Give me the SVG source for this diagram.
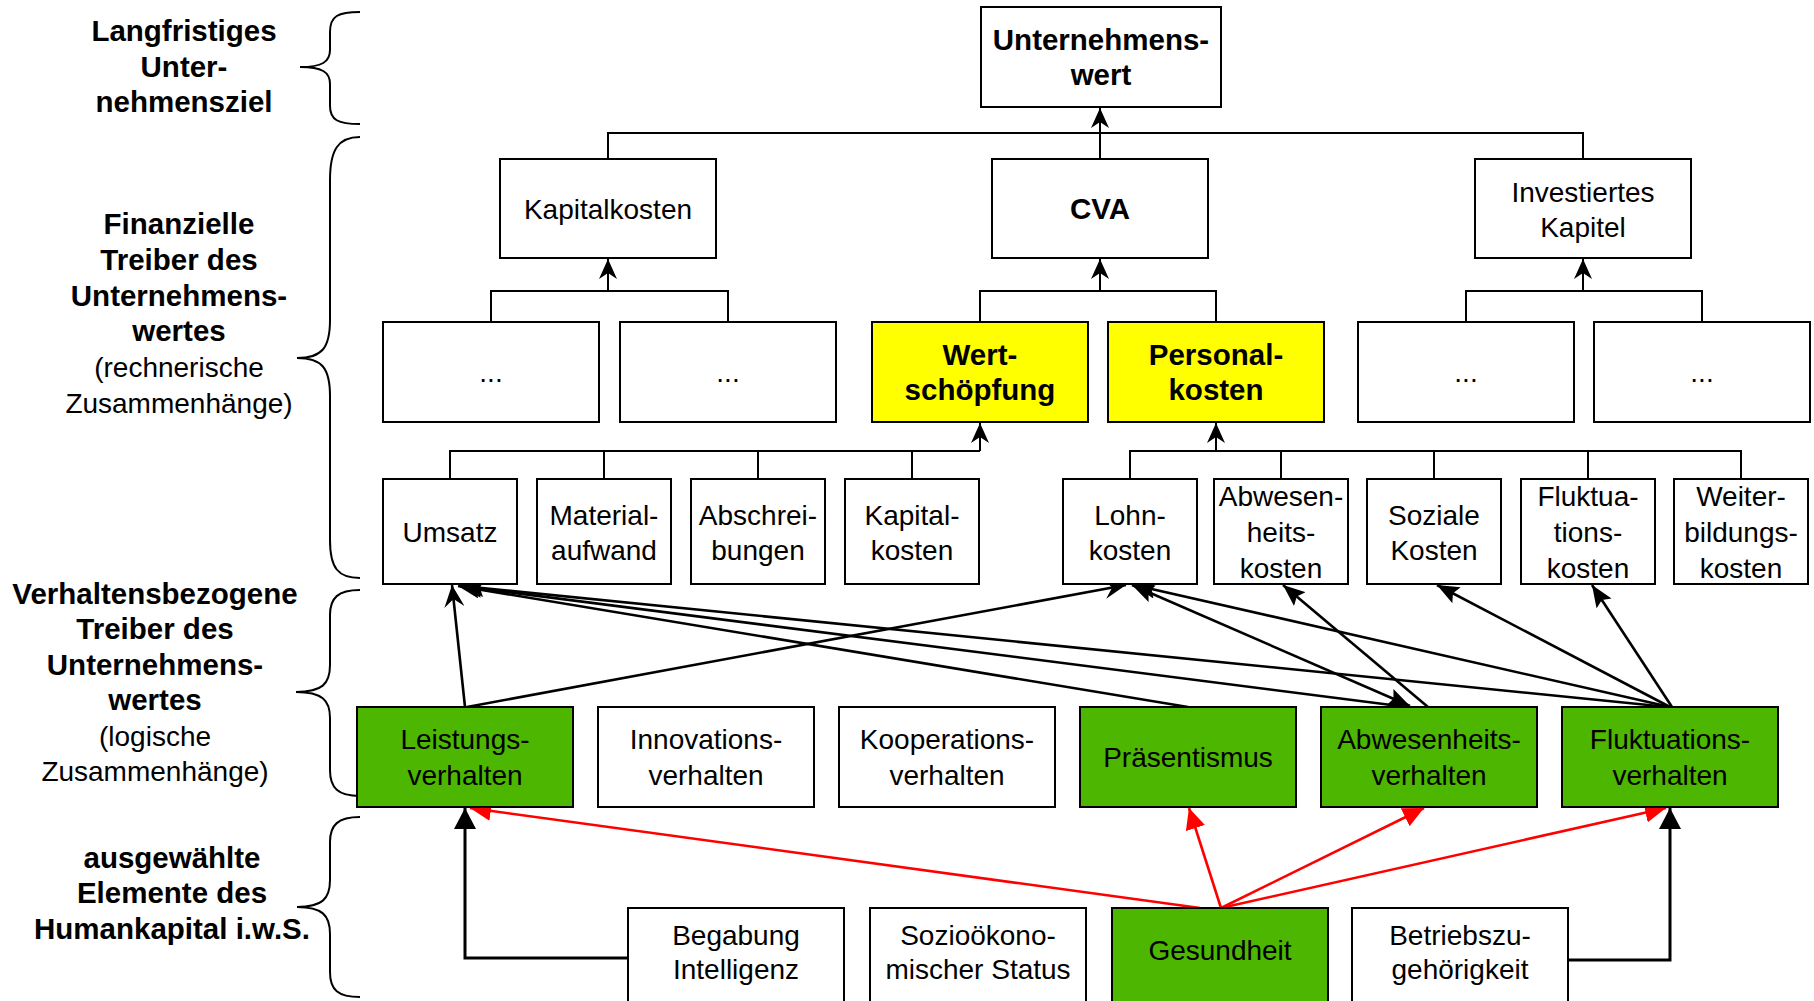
<svg xmlns="http://www.w3.org/2000/svg" width="1814" height="1001" viewBox="0 0 1814 1001">
<style>
  .box{fill:#fff;stroke:#000;stroke-width:2}
  .yel{fill:#ffff00;stroke:#000;stroke-width:2}
  .grn{fill:#4db600;stroke:#000;stroke-width:2}
  text{font-family:"Liberation Sans",Arial,sans-serif;font-size:28px;fill:#000;text-anchor:middle}
  .b{font-weight:bold;font-size:29.5px}
  .lbl{font-size:28px}
  .b.lbl{font-size:29.5px}
  .h{fill:none;stroke:#000;stroke-width:2}
  .a{fill:none;stroke:#000;stroke-width:2.6}
  .r{fill:none;stroke:#ff0000;stroke-width:2.6}
  .e{fill:none;stroke:#000;stroke-width:3}
  .br{fill:none;stroke:#000;stroke-width:2}
</style>
<defs>
  <marker id="mh" markerUnits="userSpaceOnUse" markerWidth="20" markerHeight="18" viewBox="0 0 20 18" refX="20" refY="9" orient="auto">
    <path d="M0,0 L20,9 L0,18 L6,9 Z" fill="#000"/>
  </marker>
  <marker id="mv" markerUnits="userSpaceOnUse" markerWidth="22" markerHeight="20" viewBox="0 0 22 20" refX="22" refY="10" orient="auto">
    <path d="M0,0 L22,10 L0,20 L8,10 Z" fill="#000"/>
  </marker>
  <marker id="mf" markerUnits="userSpaceOnUse" markerWidth="22" markerHeight="18" viewBox="0 0 22 18" refX="22" refY="9" orient="auto-start-reverse">
    <path d="M0,0 L22,9 L0,18 L4,9 Z" fill="#000"/>
  </marker>
  <marker id="mr" markerUnits="userSpaceOnUse" markerWidth="21" markerHeight="20" viewBox="0 0 21 20" refX="21" refY="10" orient="auto">
    <path d="M0,0 L21,10 L0,20 Z" fill="#ff0000"/>
  </marker>
  <marker id="mb" markerUnits="userSpaceOnUse" markerWidth="21" markerHeight="22" viewBox="0 0 21 22" refX="21" refY="11" orient="auto">
    <path d="M0,0 L21,11 L0,22 Z" fill="#000"/>
  </marker>
</defs>

<g id="labels">
  <path class="br" d="M360,12 C338,12 330,16 330,32 V50 C330,62 322,67 300,67 C322,67 330,72 330,84 V106 C330,120 338,124 360,124"/>
  <text class="b lbl" x="184" y="41">Langfristiges</text>
  <text class="b lbl" x="184" y="77">Unter-</text>
  <text class="b lbl" x="184" y="112">nehmensziel</text>

  <path class="br" d="M360,137 C338,137 330,150 330,180 V320 C330,348 322,358 297,358 C322,358 330,368 330,396 V540 C330,568 338,578 360,578"/>
  <text class="b lbl" x="179" y="234">Finanzielle</text>
  <text class="b lbl" x="179" y="270">Treiber des</text>
  <text class="b lbl" x="179" y="306">Unternehmens-</text>
  <text class="b lbl" x="179" y="341">wertes</text>
  <text class="lbl" x="179" y="377">(rechnerische</text>
  <text class="lbl" x="179" y="413">Zusammenhänge)</text>

  <path class="br" d="M360,590 C338,590 330,598 330,615 V665 C330,684 322,692 296,692 C322,692 330,700 330,718 V770 C330,788 338,796 360,796"/>
  <text class="b lbl" x="155" y="604">Verhaltensbezogene</text>
  <text class="b lbl" x="155" y="639">Treiber des</text>
  <text class="b lbl" x="155" y="675">Unternehmens-</text>
  <text class="b lbl" x="155" y="710">wertes</text>
  <text class="lbl" x="155" y="746">(logische</text>
  <text class="lbl" x="155" y="781">Zusammenhänge)</text>

  <path class="br" d="M360,817 C338,817 330,825 330,842 V880 C330,899 322,907 297,907 C322,907 330,915 330,934 V972 C330,990 338,997 360,997"/>
  <text class="b lbl" x="172" y="868">ausgewählte</text>
  <text class="b lbl" x="172" y="903">Elemente des</text>
  <text class="b lbl" x="172" y="939">Humankapital i.w.S.</text>
</g>

<g id="connectors">
  <!-- hierarchy -->
  <path class="h" d="M608,159 V133 H1583 V159"/>
  <path class="h" d="M1100,159 V108" marker-end="url(#mh)"/>
  <path class="h" d="M491,322 V291 H728 V322"/>
  <path class="h" d="M608,291 V259" marker-end="url(#mh)"/>
  <path class="h" d="M980,322 V291 H1216 V322"/>
  <path class="h" d="M1100,291 V259" marker-end="url(#mh)"/>
  <path class="h" d="M1466,322 V291 H1702 V322"/>
  <path class="h" d="M1583,291 V259" marker-end="url(#mh)"/>
  <path class="h" d="M450,479 V451 H980 M604,479 V451 M758,479 V451 M912,479 V451"/>
  <path class="h" d="M980,451 V423" marker-end="url(#mh)"/>
  <path class="h" d="M1130,479 V451 H1741 V479 M1281,479 V451 M1434,479 V451 M1588,479 V451"/>
  <path class="h" d="M1216,451 V423" marker-end="url(#mh)"/>
  <!-- behaviour -> financial -->
  <path class="a" d="M465,707 L452,585" marker-end="url(#mv)"/>
  <path class="a" d="M467,707 L1126,585" marker-end="url(#mv)"/>
  <path class="a" d="M1188,707 L458,586" marker-end="url(#mf)"/>
  <path class="a" d="M1407,707 L460,586" marker-end="url(#mf)"/>
  <path class="a" d="M1668,707 L462,586" marker-end="url(#mf)"/>
  <path class="a" d="M1410,706 L1132,585" marker-start="url(#mf)" marker-end="url(#mf)"/>
  <path class="a" d="M1428,707 L1283,585" marker-end="url(#mf)"/>
  <path class="a" d="M1670,707 L1134,585" marker-end="url(#mf)"/>
  <path class="a" d="M1670,707 L1437,585" marker-end="url(#mf)"/>
  <path class="a" d="M1672,707 L1592,585" marker-end="url(#mf)"/>
  <!-- red -->
  <path class="r" d="M1200,908 L470,808" marker-end="url(#mr)"/>
  <path class="r" d="M1221,908 L1189,808" marker-end="url(#mr)"/>
  <path class="r" d="M1221,908 L1424,808" marker-end="url(#mr)"/>
  <path class="r" d="M1221,908 L1666,808" marker-end="url(#mr)"/>
  <!-- elbows -->
  <path class="e" d="M628,958 H465 V808" marker-end="url(#mb)"/>
  <path class="e" d="M1568,960 H1670 V808" marker-end="url(#mb)"/>
</g>

<g id="n-unternehmenswert"><rect class="box" x="981" y="7" width="240" height="100"/><text class="b" x="1101" y="50">Unternehmens-</text><text class="b" x="1101" y="85">wert</text></g>

<g id="n-kapitalkosten"><rect class="box" x="500" y="159" width="216" height="99"/><text x="608" y="219">Kapitalkosten</text></g>
<g id="n-cva"><rect class="box" x="992" y="159" width="216" height="99"/><text class="b" x="1100" y="219">CVA</text></g>
<g id="n-investiertes"><rect class="box" x="1475" y="159" width="216" height="99"/><text x="1583" y="202">Investiertes</text><text x="1583" y="237">Kapitel</text></g>

<g id="n-dots1"><rect class="box" x="383" y="322" width="216" height="100"/><text x="491" y="382">...</text></g>
<g id="n-dots2"><rect class="box" x="620" y="322" width="216" height="100"/><text x="728" y="382">...</text></g>
<g id="n-wertschoepfung"><rect class="yel" x="872" y="322" width="216" height="100"/><text class="b" x="980" y="365">Wert-</text><text class="b" x="980" y="400">schöpfung</text></g>
<g id="n-personalkosten"><rect class="yel" x="1108" y="322" width="216" height="100"/><text class="b" x="1216" y="365">Personal-</text><text class="b" x="1216" y="400">kosten</text></g>
<g id="n-dots3"><rect class="box" x="1358" y="322" width="216" height="100"/><text x="1466" y="382">...</text></g>
<g id="n-dots4"><rect class="box" x="1594" y="322" width="216" height="100"/><text x="1702" y="382">...</text></g>

<g id="n-umsatz"><rect class="box" x="383" y="479" width="134" height="105"/><text x="450" y="542">Umsatz</text></g>
<g id="n-material"><rect class="box" x="537" y="479" width="134" height="105"/><text x="604" y="525">Material-</text><text x="604" y="560">aufwand</text></g>
<g id="n-abschreibungen"><rect class="box" x="691" y="479" width="134" height="105"/><text x="758" y="525">Abschrei-</text><text x="758" y="560">bungen</text></g>
<g id="n-kapitalkosten2"><rect class="box" x="845" y="479" width="134" height="105"/><text x="912" y="525">Kapital-</text><text x="912" y="560">kosten</text></g>
<g id="n-lohnkosten"><rect class="box" x="1063" y="479" width="134" height="105"/><text x="1130" y="525">Lohn-</text><text x="1130" y="560">kosten</text></g>
<g id="n-abwesenheitskosten"><rect class="box" x="1214" y="479" width="134" height="105"/><text x="1281" y="506">Abwesen-</text><text x="1281" y="542">heits-</text><text x="1281" y="578">kosten</text></g>
<g id="n-sozialekosten"><rect class="box" x="1367" y="479" width="134" height="105"/><text x="1434" y="525">Soziale</text><text x="1434" y="560">Kosten</text></g>
<g id="n-fluktuationskosten"><rect class="box" x="1521" y="479" width="134" height="105"/><text x="1588" y="506">Fluktua-</text><text x="1588" y="542">tions-</text><text x="1588" y="578">kosten</text></g>
<g id="n-weiterbildungskosten"><rect class="box" x="1674" y="479" width="134" height="105"/><text x="1741" y="506">Weiter-</text><text x="1741" y="542">bildungs-</text><text x="1741" y="578">kosten</text></g>

<g id="n-leistungsverhalten"><rect class="grn" x="357" y="707" width="216" height="100"/><text x="465" y="749">Leistungs-</text><text x="465" y="785">verhalten</text></g>
<g id="n-innovationsverhalten"><rect class="box" x="598" y="707" width="216" height="100"/><text x="706" y="749">Innovations-</text><text x="706" y="785">verhalten</text></g>
<g id="n-kooperationsverhalten"><rect class="box" x="839" y="707" width="216" height="100"/><text x="947" y="749">Kooperations-</text><text x="947" y="785">verhalten</text></g>
<g id="n-praesentismus"><rect class="grn" x="1080" y="707" width="216" height="100"/><text x="1188" y="767">Präsentismus</text></g>
<g id="n-abwesenheitsverhalten"><rect class="grn" x="1321" y="707" width="216" height="100"/><text x="1429" y="749">Abwesenheits-</text><text x="1429" y="785">verhalten</text></g>
<g id="n-fluktuationsverhalten"><rect class="grn" x="1562" y="707" width="216" height="100"/><text x="1670" y="749">Fluktuations-</text><text x="1670" y="785">verhalten</text></g>

<g id="n-begabung"><rect class="box" x="628" y="908" width="216" height="100"/><text x="736" y="945">Begabung</text><text x="736" y="979">Intelligenz</text></g>
<g id="n-soziooekonomisch"><rect class="box" x="870" y="908" width="216" height="100"/><text x="978" y="945">Sozioökono-</text><text x="978" y="979">mischer Status</text></g>
<g id="n-gesundheit"><rect class="grn" x="1112" y="908" width="216" height="100"/><text x="1220" y="960">Gesundheit</text></g>
<g id="n-betriebszugehoerigkeit"><rect class="box" x="1352" y="908" width="216" height="100"/><text x="1460" y="945">Betriebszu-</text><text x="1460" y="979">gehörigkeit</text></g>
</svg>
